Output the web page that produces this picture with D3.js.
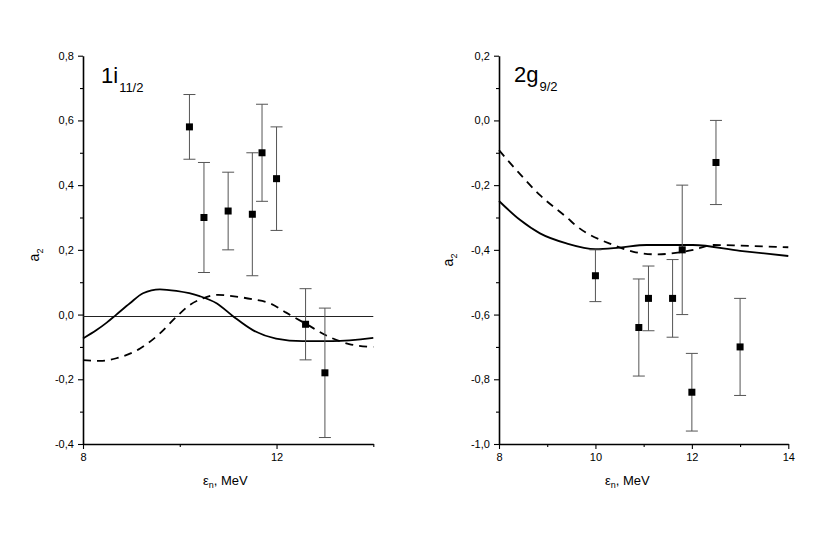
<!DOCTYPE html>
<html><head><meta charset="utf-8">
<script src="https://cdn.jsdelivr.net/npm/d3@7"></script>
<style>body{margin:0;background:#fff}svg{font-family:"Liberation Sans",Arial,sans-serif}</style>
</head><body>
<svg id="c" width="830" height="554"></svg>
<script>
// Left panel (1i 11/2)
const leftPoints = [
  {x:10.2,y:0.58,lo:0.48,hi:0.68},{x:10.5,y:0.30,lo:0.13,hi:0.47},{x:11.0,y:0.32,lo:0.20,hi:0.44},
  {x:11.5,y:0.31,lo:0.12,hi:0.50},{x:11.7,y:0.50,lo:0.35,hi:0.65},{x:12.0,y:0.42,lo:0.26,hi:0.58},
  {x:12.6,y:-0.03,lo:-0.14,hi:0.08},{x:13.0,y:-0.18,lo:-0.38,hi:0.02}];
const leftSolidX = [8,8.28,8.49,8.69,8.97,9.24,9.59,9.93,10.41,10.76,11.1,11.51,11.99,12.54,13.16,14];
const leftSolidY = [-0.074,-0.048,-0.025,0.0,0.035,0.066,0.078,0.073,0.057,0.035,-0.005,-0.048,-0.074,-0.082,-0.082,-0.072];
const leftDashX = [8,8.35,8.69,9.18,9.59,9.93,10.2,10.48,10.79,11.03,11.51,11.86,12.2,12.61,13.09,13.5,14];
const leftDashY = [-0.141,-0.143,-0.135,-0.105,-0.058,-0.007,0.029,0.05,0.061,0.058,0.047,0.035,0.006,-0.029,-0.069,-0.091,-0.1];
const leftZeroLine = -0.006;
// Right panel (2g 9/2)
const rightPoints = [
  {x:10.0,y:-0.48,lo:-0.56,hi:-0.40},{x:10.9,y:-0.64,lo:-0.79,hi:-0.49},{x:11.1,y:-0.55,lo:-0.65,hi:-0.45},
  {x:11.6,y:-0.55,lo:-0.67,hi:-0.43},{x:11.8,y:-0.40,lo:-0.60,hi:-0.20},{x:12.5,y:-0.13,lo:-0.26,hi:0.0},
  {x:12.0,y:-0.84,lo:-0.96,hi:-0.72},{x:13.0,y:-0.70,lo:-0.85,hi:-0.55}];
const rightSolidX = [8,8.44,8.85,9.4,10,10.5,11.06,12.02,13,14];
const rightSolidY = [-0.249,-0.308,-0.349,-0.38,-0.398,-0.393,-0.385,-0.385,-0.403,-0.419];
const rightDashX = [8,8.4,8.85,9.43,9.58,10.37,10.79,11.27,12.03,12.45,13.03,14];
const rightDashY = [-0.092,-0.16,-0.231,-0.303,-0.323,-0.385,-0.406,-0.414,-0.40,-0.385,-0.387,-0.392];

const leftXMajor=[8,12], leftXMinor=[10,14];
const rightXMajor=[8,10,12,14], rightXMinor=[9,11,13];

const svg = d3.select("#c");
const fmt = v => d3.format(".1f")(v).replace(".",",").replace("−","-");

function panel(o){
  const x = d3.scaleLinear().domain([8,14]).range(o.xr);
  const y = d3.scaleLinear().domain(o.yd).range([55.7,444]);
  const g = svg.append("g");
  const ya = d3.axisLeft(y).tickValues(d3.range(o.yd[1], o.yd[0]+0.001, 0.2)).tickFormat(fmt).tickSize(5).tickSizeOuter(0);
  const yg = g.append("g").attr("transform",`translate(${o.xr[0]},0)`).call(ya);
  const ym = d3.axisLeft(y).tickValues(d3.range(o.yd[1]+0.1, o.yd[0], 0.2)).tickFormat("").tickSize(3).tickSizeOuter(0);
  g.append("g").attr("transform",`translate(${o.xr[0]},0)`).call(ym).select(".domain").remove();
  const xa = d3.axisBottom(x).tickValues(o.xMaj).tickFormat(d3.format("d")).tickSize(5).tickSizeOuter(0);
  const xg = g.append("g").attr("transform",`translate(0,444)`).call(xa);
  const xm = d3.axisBottom(x).tickValues(o.xMin).tickFormat("").tickSize(3).tickSizeOuter(0);
  g.append("g").attr("transform",`translate(0,444)`).call(xm).select(".domain").remove();
  g.selectAll(".domain").attr("stroke","#000").attr("stroke-width",1.6);
  g.selectAll(".tick line").attr("stroke","#000").attr("stroke-width",1.1);
  g.selectAll(".tick text").attr("font-size",11).attr("fill","#000").attr("font-family","Liberation Sans, Arial, sans-serif");
  yg.selectAll(".tick text").attr("dx","-0.1em");
  xg.selectAll(".tick text").attr("dy","0.85em");
  if(o.zero!==undefined){
    g.append("line").attr("x1",x(8)).attr("x2",x(14)).attr("y1",y(o.zero)).attr("y2",y(o.zero)).attr("stroke","#222").attr("stroke-width",1);
  }
  const line = d3.line().x(d=>x(d[0])).y(d=>y(d[1])).curve(d3.curveMonotoneX);
  g.append("path").datum(o.sx.map((v,i)=>[v,o.sy[i]])).attr("d",line).attr("fill","none").attr("stroke","#000").attr("stroke-width",1.8);
  g.append("path").datum(o.dx.map((v,i)=>[v,o.dy[i]])).attr("d",line).attr("fill","none").attr("stroke","#000").attr("stroke-width",1.8).attr("stroke-dasharray","8,6");
  const eb = g.selectAll(".eb").data(o.pts).enter().append("g");
  eb.append("line").attr("x1",d=>x(d.x)).attr("x2",d=>x(d.x)).attr("y1",d=>y(d.lo)).attr("y2",d=>y(d.hi)).attr("stroke","#555").attr("stroke-width",1);
  eb.append("line").attr("x1",d=>x(d.x)-6).attr("x2",d=>x(d.x)+6).attr("y1",d=>y(d.lo)).attr("y2",d=>y(d.lo)).attr("stroke","#555").attr("stroke-width",1);
  eb.append("line").attr("x1",d=>x(d.x)-6).attr("x2",d=>x(d.x)+6).attr("y1",d=>y(d.hi)).attr("y2",d=>y(d.hi)).attr("stroke","#555").attr("stroke-width",1);
  eb.append("rect").attr("x",d=>x(d.x)-3.5).attr("y",d=>y(d.y)-3.5).attr("width",7).attr("height",7).attr("fill","#000");
  const t = g.append("text").attr("x",o.tx).attr("y",o.ty).attr("font-size",22).attr("fill","#000");
  t.append("tspan").text(o.t1);
  t.append("tspan").attr("font-size",13).attr("dy",9).attr("dx",1).text(o.t2);
  const yl = g.append("text").attr("transform",`translate(${o.ylx},${o.yly}) rotate(-90)`).attr("font-size",14).attr("text-anchor","middle").attr("fill","#000");
  yl.append("tspan").text("a");
  yl.append("tspan").attr("font-size",9).attr("dy",4).text("2");
  const xl = g.append("text").attr("x",o.xlx).attr("y",485).attr("font-size",13).attr("fill","#000");
  xl.append("tspan").text("ε");
  xl.append("tspan").attr("font-size",9).attr("dy",3).text("n");
  xl.append("tspan").attr("dy",-3).text(", MeV");
}

panel({xr:[83,373.3], yd:[0.8,-0.4], xMaj:leftXMajor, xMin:leftXMinor, zero:leftZeroLine,
  sx:leftSolidX, sy:leftSolidY, dx:leftDashX, dy:leftDashY, pts:leftPoints,
  t1:"1i", t2:"11/2", tx:101, ty:83, ylx:39, yly:255, xlx:203});
panel({xr:[499,788.3], yd:[0.2,-1.0], xMaj:rightXMajor, xMin:rightXMinor,
  sx:rightSolidX, sy:rightSolidY, dx:rightDashX, dy:rightDashY, pts:rightPoints,
  t1:"2g", t2:"9/2", tx:514, ty:82, ylx:453, yly:260, xlx:605});
</script>
</body></html>
